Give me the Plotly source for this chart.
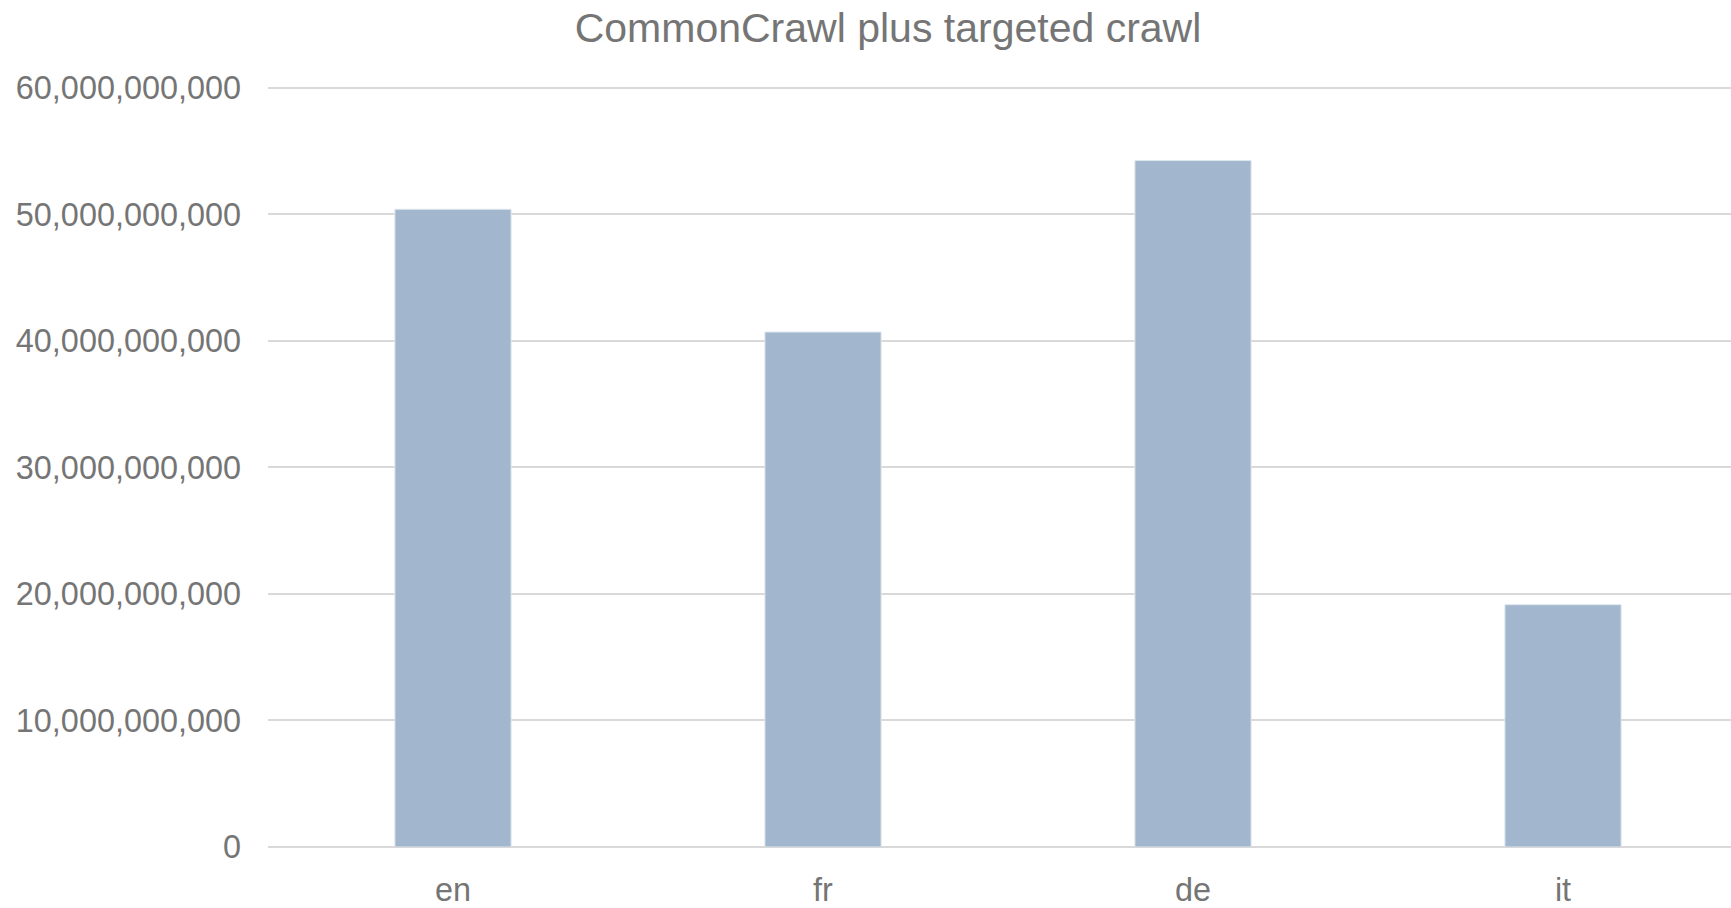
import plotly.graph_objects as go

categories = ["en", "fr", "de", "it"]
values = [50.4e9, 40.7e9, 54.25e9, 19.15e9]
tick_vals = [0, 10e9, 20e9, 30e9, 40e9, 50e9, 60e9]
tick_text = ["0", "10,000,000,000", "20,000,000,000", "30,000,000,000",
             "40,000,000,000", "50,000,000,000", "60,000,000,000"]
title_text = "CommonCrawl plus targeted crawl"

FONT = "Liberation Sans, Arial, sans-serif"
GRAY = "#757575"

fig = go.Figure(go.Bar(
    x=categories, y=values,
    marker=dict(color="#a2b7cd", line=dict(color="#dfe6ee", width=1)),
))

# plot top at 60.3e9 so the 60B gridline is drawn inside the area
top = 60.3e9
fig.update_layout(
    width=1731, height=908,
    margin=dict(l=268, r=0, t=84, b=57),
    paper_bgcolor="white", plot_bgcolor="white",
    bargap=0.686,
    showlegend=False,
    font=dict(family=FONT, color=GRAY, size=32),
    title=dict(text=title_text, x=888 / 1731, xanchor="center", xref="container",
               y=1 - 28 / 908, yanchor="middle", yref="container",
               font=dict(family=FONT, size=41, color=GRAY)),
)
fig.update_yaxes(range=[0, top], tickvals=tick_vals, ticktext=tick_text,
                 showgrid=True, gridcolor="#d9d9d9", gridwidth=2,
                 zeroline=True, zerolinecolor="#d9d9d9", zerolinewidth=2,
                 showline=False, ticks="", ticklabelstandoff=26,
                 tickfont=dict(size=32.4, color=GRAY))
fig.update_xaxes(range=[-0.5, 3.454], showline=False, ticks="", showgrid=False,
                 tickfont=dict(size=32.4, color=GRAY), ticklabelstandoff=21)

fig.write_html("out.html")
